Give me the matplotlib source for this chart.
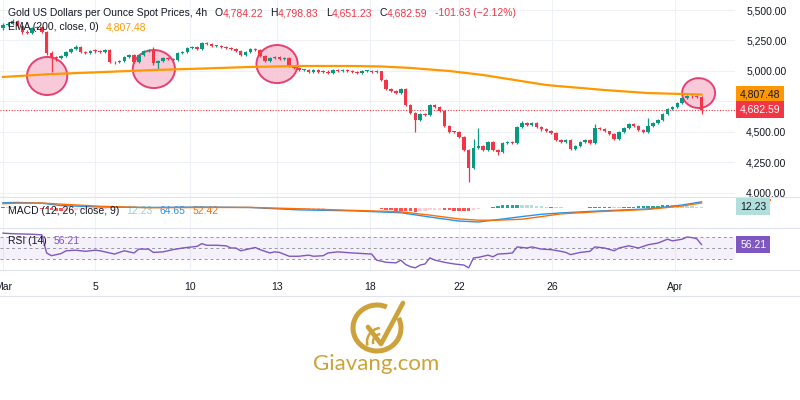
import matplotlib
matplotlib.use("Agg")
import matplotlib.pyplot as plt
import numpy as np
from matplotlib.patches import Ellipse, Arc, Rectangle
from matplotlib.lines import Line2D
from matplotlib.transforms import blended_transform_factory

plt.rcParams["font.family"] = ["Liberation Sans", "DejaVu Sans"]

# 4h candles, Mar 1 - Apr 2
first_open = 5352
closes = [5377, 5385, 5410, 5369, 5320, 5311, 5352, 5361, 5320, 5147,
          5106, 5104, 5123, 5156, 5180, 5197, 5156, 5147, 5164, 5162,
          5156, 5172, 5074, 5070, 5082, 5115, 5131, 5074, 5131, 5164,
          5172, 5065, 5082, 5106, 5098, 5090, 5147, 5156, 5188, 5197,
          5180, 5229, 5221, 5205, 5207, 5197, 5188, 5180, 5164, 5131,
          5156, 5180, 5172, 5123, 5082, 5106, 5115, 5098, 5106, 5041,
          5024, 5008, 5010, 4992, 5008, 4992, 4994, 4983, 5008, 5000,
          5008, 5000, 4992, 4983, 5000, 5002, 4992, 5000, 4926, 4852,
          4836, 4819, 4852, 4721, 4655, 4598, 4647, 4639, 4721, 4705,
          4672, 4549, 4500, 4498, 4459, 4352, 4204, 4368, 4385, 4352,
          4418, 4352, 4336, 4409, 4418, 4409, 4541, 4573, 4557, 4573,
          4541, 4524, 4508, 4491, 4434, 4418, 4434, 4360, 4385, 4418,
          4434, 4409, 4532, 4524, 4508, 4483, 4442, 4500, 4532, 4565,
          4549, 4516, 4500, 4549, 4573, 4598, 4647, 4688, 4705, 4737,
          4778, 4795, 4792, 4784.22, 4682.59]
highs = [5395, 5400, 5425, 5418, 5375, 5335, 5362, 5372, 5368, 5326,
         5160, 5120, 5132, 5165, 5190, 5210, 5205, 5168, 5175, 5178,
         5170, 5182, 5178, 5085, 5092, 5122, 5140, 5136, 5138, 5172,
         5182, 5198, 5092, 5114, 5114, 5106, 5155, 5165, 5196, 5208,
         5205, 5236, 5240, 5228, 5215, 5212, 5203, 5195, 5186, 5170,
         5162, 5188, 5190, 5178, 5130, 5114, 5122, 5122, 5114, 5112,
         5048, 5030, 5020, 5018, 5015, 5014, 5010, 5005, 5014, 5014,
         5015, 5020, 5008, 5000, 5006, 5010, 5012, 5008, 5004, 4932,
         4860, 4845, 4860, 4858, 4728, 4662, 4655, 4655, 4730, 4732,
         4712, 4678, 4556, 4508, 4504, 4465, 4358, 4445, 4530, 4395,
         4425, 4425, 4360, 4415, 4426, 4425, 4548, 4590, 4580, 4582,
         4580, 4548, 4530, 4514, 4496, 4440, 4445, 4440, 4392, 4425,
         4442, 4440, 4562, 4540, 4530, 4512, 4490, 4508, 4540, 4575,
         4572, 4555, 4524, 4615, 4582, 4606, 4655, 4696, 4715, 4745,
         4786, 4805, 4805, 4800, 4798.83]
lows = [5340, 5365, 5378, 5360, 5305, 5300, 5305, 5345, 5310, 5135,
        4990, 5085, 5095, 5115, 5150, 5172, 5148, 5138, 5140, 5150,
        5145, 5150, 5065, 5060, 5062, 5075, 5108, 5065, 5068, 5125,
        5158, 5050, 5020, 5075, 5090, 5082, 5085, 5140, 5150, 5180,
        5172, 5175, 5212, 5198, 5198, 5190, 5180, 5172, 5155, 5124,
        5125, 5150, 5165, 5115, 5075, 5076, 5098, 5090, 5090, 5035,
        5015, 5000, 5000, 4984, 4985, 4985, 4985, 4975, 4978, 4992,
        4995, 4992, 4980, 4976, 4978, 4994, 4986, 4986, 4918, 4845,
        4826, 4812, 4812, 4712, 4645, 4500, 4590, 4630, 4632, 4698,
        4662, 4540, 4492, 4488, 4450, 4345, 4090, 4198, 4360, 4342,
        4346, 4344, 4310, 4330, 4400, 4400, 4402, 4535, 4550, 4550,
        4535, 4505, 4500, 4484, 4426, 4410, 4412, 4352, 4355, 4380,
        4412, 4400, 4402, 4515, 4500, 4475, 4432, 4436, 4495, 4526,
        4540, 4508, 4494, 4494, 4542, 4566, 4590, 4640, 4680, 4698,
        4730, 4770, 4780, 4775, 4651.23]

# EMA 200 (read at a few bars)
ema_bars = [0, 10, 21, 31, 41, 51, 61, 72, 78, 84, 92, 99, 112, 124, 133, 144]
ema_vals = [4951, 4975, 4992, 5008, 5020, 5033, 5041, 5041, 5037, 5025,
            5000, 4967, 4885, 4844, 4819, 4807.48]

# MACD pane
macd_bars = [0, 3, 8, 12, 20, 30, 41, 51, 61, 72, 82, 88, 94, 98, 102, 107,
             111, 115, 123, 133, 140, 144]
macd_vals = [55, 58, 50, 25, 10, 5, 10, 5, -20, -30, -50, -95, -137, -147,
             -122, -90, -66, -52, -31, -10, 31, 64.65]
signal_vals = [45, 50, 52, 40, 18, 3, 5, 6, -8, -25, -40, -75, -115, -128,
               -128, -118, -90, -62, -38, -15, 21, 52.42]
hist_vals = [10, 8, 6, 4, 2, 0, -2, -4, -6,
             -15, -25, -30, -30, -28, -25, -20, -18, -15, -12, -10, -8,
             -6, -5, -4, -2, 0, 2, 3, 4, 5, 5, 3, 2, 1, 2, 3, 4, 5, 6, 7, 8,
             8, 8, 7, 6, 5, 4, 3, 2, 1, 0, -1, -2, -4, -6, -8,
             -10, -12, -14, -15, -16, -15, -14, -12, -10, -8, -6, -5, -4, -3,
             -2, -1, 0, 1, 2, 2,
             -2, -5, -12, -20, -25, -28, -30, -32, -35, -38, -35, -30, -25,
             -22, -20, -22, -25, -28, -30, -32, -35,
             -20, -12, -4, 4, 12, 20, 26, 30, 33, 35, 33, 30, 26, 22, 18, 14,
             15, 10, 6, 3, 1, 0, 2, 4, 6, 8, 10, 12, 12,
             10, 8, 9, 12, 14, 16, 18, 20, 22, 24, 26, 28, 26, 24, 22, 20, 18,
             15, 12.23]

# RSI 14
rsi_bars = [0, 2, 6, 8, 9, 10, 12, 13, 15, 17, 19, 20, 23, 25, 27, 28, 30, 31,
            33, 35, 37, 40, 41, 42, 44, 46, 47, 48, 49, 51, 52, 53, 55, 56, 57,
            59, 61, 63, 64, 66, 67, 69, 72, 74, 76, 77, 79, 81, 82, 83, 84, 85,
            86, 87, 88, 89, 91, 93, 95, 96, 97, 98, 100, 101, 102, 104, 105,
            106, 108, 109, 111, 113, 115, 116, 117, 119, 121, 122, 124, 126,
            127, 129, 131, 133, 135, 137, 138, 140, 141, 142, 143, 144]
rsi_vals = [77, 76, 75, 74, 41, 36, 40, 45, 46, 44, 46, 45, 39, 45, 41, 48, 48,
            42, 43, 47, 50, 53, 58, 55, 55, 54, 50, 50, 45, 49, 51, 47, 41, 43,
            42, 35, 35, 37, 35, 36, 41, 43, 41, 40, 39, 28, 24, 23, 28, 20, 16,
            14, 19, 21, 32, 28, 24, 21, 19, 14, 32, 33, 37, 34, 39, 40, 41, 52,
            50, 52, 48, 47, 44, 42, 38, 42, 44, 52, 50, 45, 50, 54, 50, 56, 59,
            66, 63, 66, 70, 69, 67, 56.21]

date_labels = ["Mar", "5", "10", "13", "18", "22", "26", "Apr"]
date_pos = [0, 19, 38.5, 56.5, 75.7, 94, 113.2, 138.6]

# highlighted zones (bar, price, width in bars, height in price)
circles = [(9.1, 4959, 8.3, 312), (31.1, 5016, 8.7, 312),
           (56.5, 5057, 8.5, 312), (143.4, 4819, 6.8, 245)]

GREEN = "#089981"
RED = "#f23645"
ORANGE = "#ff9800"
DARK = "#131722"
GRID = "#eef1f6"
GOLD = "#cda23a"
PURPLE = "#7e57c2"

W, H = 800, 400
fig = plt.figure(figsize=(8, 4), dpi=100)
fig.patch.set_facecolor("white")


def px_axes(x0, y0, x1, y1):
    return fig.add_axes([x0 / W, 1 - y1 / H, (x1 - x0) / W, (y1 - y0) / H])


ax = px_axes(0, 0, 735, 197)
ax_macd = px_axes(0, 197, 735, 228)
ax_rsi = px_axes(0, 228, 735, 270)
ax_logo = px_axes(0, 296, 800, 400)

for a in (ax, ax_macd, ax_rsi):
    a.set_xlim(-0.62, 150.9)
    for s in a.spines.values():
        s.set_visible(False)
    a.set_xticks(date_pos)
    a.tick_params(length=0)
    a.grid(True, color=GRID, lw=0.8)
    a.set_axisbelow(True)
    a.set_facecolor("none")

# ---- price pane
closes = np.array(closes)
opens = np.array([first_open] + list(closes[:-1]))
highs = np.array(highs)
lows = np.array(lows)
xs = np.arange(len(closes))
cols = np.where(closes >= opens, GREEN, RED)

for cx, cy, w, h in circles:
    ax.add_patch(Ellipse((cx, cy), w, h, facecolor="#f7c1d3", edgecolor="#e2245c",
                         lw=1.4, alpha=0.85, zorder=1))

ax.vlines(xs, lows, highs, colors=cols, lw=0.9, zorder=2)
ax.bar(xs, np.maximum(np.abs(closes - opens), 7), bottom=np.minimum(opens, closes),
       width=0.72, color=cols, lw=0, zorder=2)
ax.plot(ema_bars, ema_vals, color=ORANGE, lw=1.6, zorder=3)
ax.axhline(closes[-1], color=RED, lw=0.8, ls=(0, (1, 1.5)), zorder=1)

ax.set_ylim(3967, 5582)
yt = np.arange(4000, 5501, 250)
ax.set_yticks(yt)
ax.set_yticklabels(["" if v == 4750 else f"{v:,.2f}" for v in yt])
ax.yaxis.tick_right()
ax.tick_params(axis="y", labelsize=7.5, labelcolor=DARK, pad=8)
ax.set_xticklabels([])

trans = blended_transform_factory(ax.transAxes, ax.transData)
ax.text(1.007, ema_vals[-1], f"{ema_vals[-1]:,.2f}", transform=trans, fontsize=7.5,
        color=DARK, va="center", ha="left",
        bbox=dict(boxstyle="square,pad=0.35", fc=ORANGE, ec="none"))
ax.text(1.007, closes[-1], f"{closes[-1]:,.2f}", transform=trans, fontsize=7.5,
        color="white", va="center", ha="left",
        bbox=dict(boxstyle="square,pad=0.35", fc=RED, ec="none"))

# ---- MACD pane
hist = np.array(hist_vals)
prev = np.concatenate([[hist[0]], hist[:-1]])
hcols = np.where(hist >= 0, np.where(hist >= prev, "#26a69a", "#b2dfdb"),
                 np.where(hist <= prev, "#ff5252", "#ffcdd2"))
ax_macd.bar(xs, hist, width=0.72, color=hcols, lw=0)
ax_macd.plot(macd_bars, macd_vals, color="#2196f3", lw=1.0)
ax_macd.plot(macd_bars, signal_vals, color="#ff6d00", lw=1.0)
ax_macd.set_ylim(-210, 115)
ax_macd.set_yticks([])
ax_macd.set_xticklabels([])
tm = blended_transform_factory(ax_macd.transAxes, ax_macd.transData)
# signal label mostly hidden behind the histogram label: only its top edge shows
ax_macd.add_patch(Rectangle((1.0068, signal_vals[-1] + 21), 0.042, 21, transform=tm,
                            fc="#ff6d00", ec="none", clip_on=False))
ax_macd.text(1.007, hist_vals[-1], f"{hist_vals[-1]:.2f}", transform=tm,
             fontsize=7.5, color=DARK, va="center", ha="left",
             bbox=dict(boxstyle="square,pad=0.35", fc="#b2dfdb", ec="none"))

# ---- RSI pane
ax_rsi.axhspan(30, 70, color=PURPLE, alpha=0.08, lw=0)
for lvl in (70, 50, 30):
    ax_rsi.axhline(lvl, color="#9598a1", lw=0.7, ls=(0, (3, 3)))
ax_rsi.plot(rsi_bars, rsi_vals, color=PURPLE, lw=1.0)
ax_rsi.set_ylim(10, 86.4)
ax_rsi.set_yticks([])
ax_rsi.set_xticklabels(date_labels)
ax_rsi.tick_params(axis="x", labelsize=7.5, labelcolor=DARK, pad=9)
tr = blended_transform_factory(ax_rsi.transAxes, ax_rsi.transData)
ax_rsi.text(1.007, rsi_vals[-1], f"{rsi_vals[-1]:.2f}", transform=tr, fontsize=7.5,
            color="white", va="center", ha="left",
            bbox=dict(boxstyle="square,pad=0.35", fc=PURPLE, ec="none"))

# pane separators
for ypx in (197, 228, 270, 296):
    fig.add_artist(Line2D([0, 1], [1 - ypx / H] * 2, transform=fig.transFigure,
                          color="#e0e3eb", lw=0.8))


# ---- legends
def legend_row(x_px, y_px, parts):
    prev_t = None
    for s, c, gap in parts:
        if prev_t is None:
            prev_t = fig.text(x_px / W, 1 - y_px / H, s, color=c, fontsize=7.5,
                              va="center", ha="left")
        else:
            prev_t = ax.annotate(s, xy=(1, 0.5), xycoords=prev_t, xytext=(gap, 0),
                                 textcoords="offset points", color=c, fontsize=7.5,
                                 va="center", ha="left")


chg = closes[-1] - closes[-2]
pct = chg / closes[-2] * 100
legend_row(8, 13, [("Gold US Dollars per Ounce Spot Prices, 4h", DARK, 0),
                   ("O", DARK, 5), (f"{opens[-1]:,.2f}", RED, 0.3),
                   ("H", DARK, 5), (f"{highs[-1]:,.2f}", RED, 0.3),
                   ("L", DARK, 5), (f"{lows[-1]:,.2f}", RED, 0.3),
                   ("C", DARK, 5), (f"{closes[-1]:,.2f}", RED, 0.3),
                   (f"{chg:.2f} (\u2212{abs(pct):.2f}%)", RED, 5)])
legend_row(8, 27, [("EMA (200, close, 0)", DARK, 0),
                   (f"{ema_vals[-1]:,.2f}", ORANGE, 5)])
legend_row(8, 211, [("MACD (12, 26, close, 9)", DARK, 0),
                    (f"{hist_vals[-1]:.2f}", "#8fd6ca", 5),
                    (f"{macd_vals[-1]:.2f}", "#2196f3", 5),
                    (f"{signal_vals[-1]:.2f}", "#ff6d00", 5)])
legend_row(8, 241, [("RSI (14)", DARK, 0), (f"{rsi_vals[-1]:.2f}", PURPLE, 5)])

# ---- logo
ax_logo.set_xlim(0, 800)
ax_logo.set_ylim(400, 296)
ax_logo.axis("off")
ax_logo.add_patch(Arc((377, 328), 48, 46, theta1=335, theta2=655, lw=3.6, color=GOLD))
for r in (8, 14):
    ax_logo.add_patch(Arc((381, 342), 2 * r, 2 * r, theta1=165, theta2=265, lw=1.8,
                          color=GOLD))
ax_logo.plot([368, 381, 403], [327, 344, 303], color=GOLD, lw=3.4,
             solid_capstyle="round", solid_joinstyle="round")
ax_logo.text(376, 364, "Giavang.com", fontsize=16, color=GOLD, ha="center",
             va="center", family=["Lato", "DejaVu Sans"])

fig.savefig("out.png", dpi=100, facecolor="white")
